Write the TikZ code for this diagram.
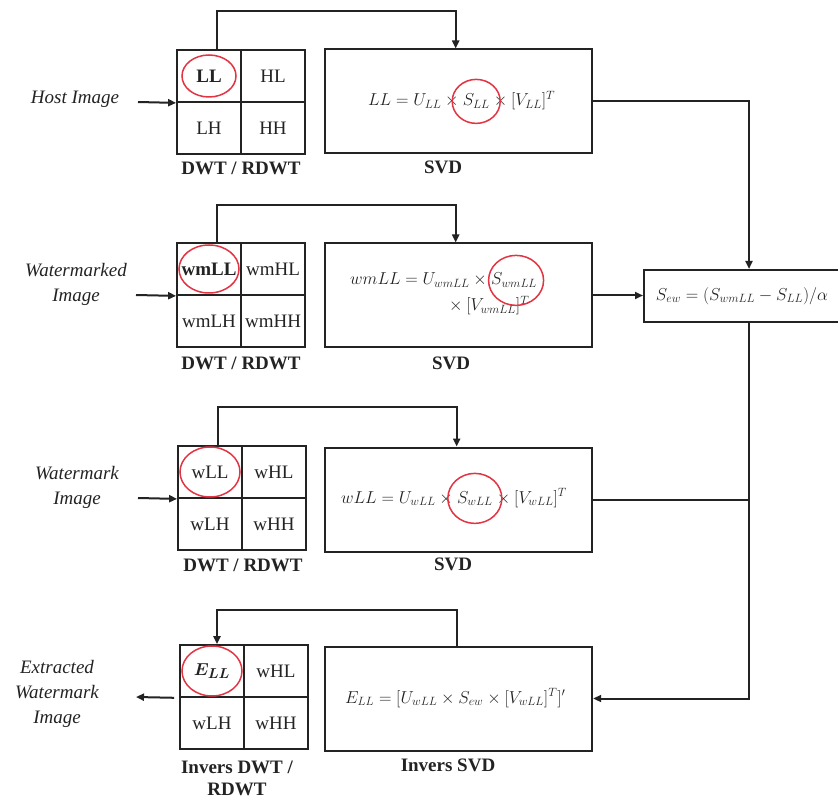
\documentclass[tikz,border=0pt]{standalone}
\usepackage{fontspec}
\setmainfont{Liberation Serif}
\usetikzlibrary{arrows.meta}
\definecolor{ringred}{RGB}{226,52,66}
\definecolor{ink}{RGB}{35,35,35}
\newcommand\gridcells[7]{%
  \node[cell] (#1a) at ({#2+32},{#3+26}) {#4};
  \node[cell] (#1b) at ({#2+96},{#3+26}) {#5};
  \node[cell] (#1c) at ({#2+32},{#3+78}) {#6};
  \node[cell] (#1d) at ({#2+96},{#3+78}) {#7};
}
\begin{document}
\begin{tikzpicture}[x=1pt,y=-1pt,
  line/.style={draw=ink, line width=2pt},
  arr/.style={line, -{Triangle[length=8pt,width=7pt]}},
  cell/.style={draw=ink, line width=1.8pt, minimum width=64pt, minimum height=52pt, inner sep=0pt, text=ink, font=\fontsize{19}{22}\selectfont},
  box/.style={draw=ink, line width=2pt, inner sep=0pt, text=ink},
  caplab/.style={font=\bfseries\fontsize{19}{22}\selectfont, align=center, text=ink, inner sep=0pt},
  inlab/.style={font=\itshape\fontsize{19}{25}\selectfont, align=center, text=ink, inner sep=0pt},
  mth/.style={inner sep=0pt, anchor=base west, text=ink, font=\fontsize{17.5}{20}\selectfont},
  ring/.style={draw=ringred, line width=1.5pt}]
\useasboundingbox (0,0) rectangle (838,799);
\fill[white] (0,0) rectangle (838,799);

% left input labels
\node[inlab] (t1) at (75,99) {Host Image};
\node[inlab] (t2) at (76,284) {Watermarked\\Image};
\node[inlab] (t3) at (77,487) {Watermark\\Image};
\node[inlab] (t4) at (57,694) {Extracted\\Watermark\\Image};

% grids
\gridcells{g1}{177}{50}{\textbf{LL}}{HL}{LH}{HH}
\gridcells{g2}{177}{243}{\textbf{wmLL}}{wmHL}{wmLH}{wmHH}
\gridcells{g3}{178}{446}{wLL}{wHL}{wLH}{wHH}
\gridcells{g4}{180}{645}{{\boldmath$E_{LL}$}}{wHL}{wLH}{wHH}

\draw[ring] (g1a.center) ellipse [x radius=27pt, y radius=21pt];
\draw[ring] (g2a.center) ellipse [x radius=30pt, y radius=24pt];
\draw[ring] (g3a.center) ellipse [x radius=30pt, y radius=25pt];
\draw[ring] (g4a.center) ellipse [x radius=30pt, y radius=25pt];

% grid captions
\node[caplab] (c1) at (241,168) {DWT / RDWT};
\node[caplab] (c2) at (241,363) {DWT / RDWT};
\node[caplab] (c3) at (243,565) {DWT / RDWT};
\node[caplab] (c4) at (237,778) {Invers DWT /\\RDWT};

% SVD boxes
\node[box, minimum width=267pt, minimum height=104pt] (s1) at (458.7,101.5) {};
\node[box, minimum width=267pt, minimum height=104pt] (s2) at (458.7,295.5) {};
\node[box, minimum width=267pt, minimum height=104pt] (s3) at (458.7,499.5) {};
\node[box, minimum width=267pt, minimum height=104pt] (s4) at (458.7,698.5) {};

\node[caplab] (v1) at (443,167) {SVD};
\node[caplab] (v2) at (451,363) {SVD};
\node[caplab] (v3) at (453,564) {SVD};
\node[caplab] (v4) at (448,765) {Invers SVD};

% formulas
\node[mth] (f1a) at (368,106) {$LL = U_{LL}\times{}$};
\node[mth] (f1s) at (f1a.base east) {$S_{LL}$};
\node[mth] (f1b) at (f1s.base east) {${}\times[V_{LL}]^T$};
\draw[ring] (f1s.center) ellipse [x radius=24pt, y radius=22pt];

\node[mth] (f2a) at (350,285) {$wmLL = U_{wmLL}\times{}$};
\node[mth] (f2s) at (f2a.base east) {$S_{wmLL}$};
\node[mth] (f2b) at (445,311) {${}\times[V_{wmLL}]^T$};
\draw[ring] ([xshift=2pt]f2s.center) ellipse [x radius=27.5pt, y radius=25pt];

\node[mth] (f3a) at (341,503) {$wLL = U_{wLL}\times{}$};
\node[mth] (f3s) at (f3a.base east) {$S_{wLL}$};
\node[mth] (f3b) at (f3s.base east) {${}\times[V_{wLL}]^T$};
\draw[ring] (f3s.center) ellipse [x radius=27pt, y radius=25pt];

\node[mth] (f4) at (345,703) {$E_{LL} = [U_{wLL}\times S_{ew}\times[V_{wLL}]^T]'$};

% combination box
\node[box, minimum width=196pt, minimum height=52pt, font=\fontsize{17.5}{20}\selectfont] (sew) at (742,296) {$S_{ew} = (S_{wmLL} - S_{LL})/\alpha$};
\coordinate (vx) at ([xshift=7pt]sew.south);

% input / output arrows
\coordinate (in1) at (138,102);
\coordinate (in2) at (136,295);
\coordinate (in3) at (138,498);
\coordinate (out4) at (136,697);
\draw[arr] (in1) -- (g1a.south west);
\draw[arr] (in2) -- (g2a.south west);
\draw[arr] (in3) -- (g3a.south west);
\draw[arr, shorten <=5pt] (g4a.south west) -- (out4);

% top connectors
\draw[arr] ([xshift=8pt]g1a.north) |- ([xshift=-3pt,yshift=37pt]s1.north) -- ([xshift=-3pt]s1.north);
\draw[arr] ([xshift=8pt]g2a.north) |- ([xshift=-3pt,yshift=37pt]s2.north) -- ([xshift=-3pt]s2.north);
\draw[arr] ([xshift=8pt]g3a.north) |- ([xshift=-2pt,yshift=39pt]s3.north) -- ([xshift=-2pt]s3.north);
\draw[arr] ([xshift=-2pt]s4.north) |- ([xshift=5pt,yshift=34pt]g4a.north) -- ([xshift=5pt]g4a.north);

% right-side connectors
\draw[arr] (s1.east) -| ([xshift=7pt]sew.north);
\draw[arr] (s2.east) -- (s2.east -| sew.west);
\draw[line] (s3.east) -- (s3.east -| vx);
\draw[arr] (vx) |- (s4.east);
\end{tikzpicture}
\end{document}
